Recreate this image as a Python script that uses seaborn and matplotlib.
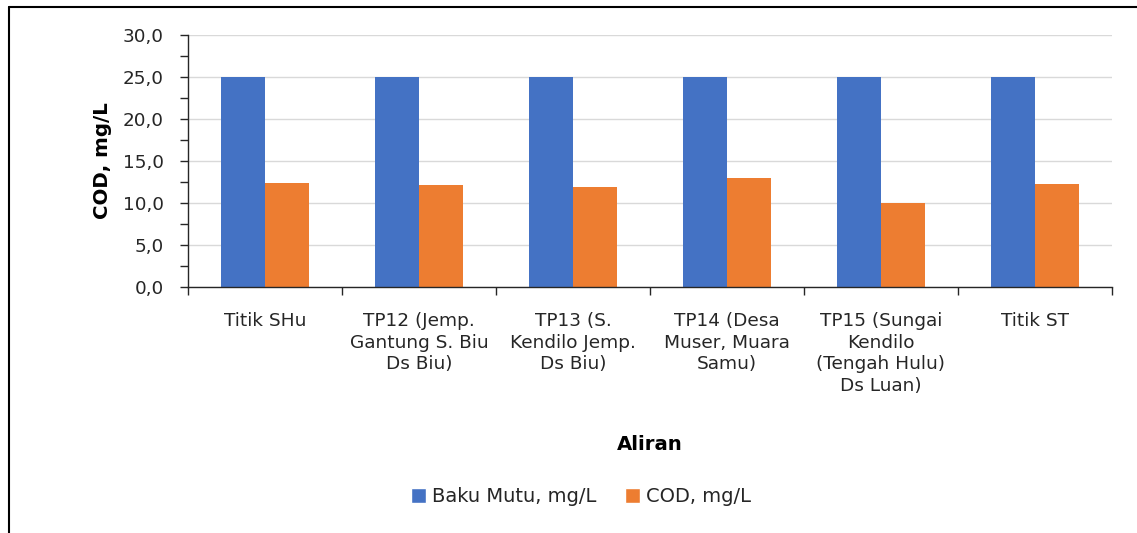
import matplotlib
matplotlib.use("Agg")
import matplotlib.pyplot as plt
import seaborn as sns
import pandas as pd
import numpy as np
from matplotlib.patches import Patch
from matplotlib.lines import Line2D
from matplotlib.ticker import MultipleLocator, FixedLocator, FuncFormatter

categories = ["Titik SHu", "TP12 (Jemp.\nGantung S. Biu\nDs Biu)", "TP13 (S.\nKendilo Jemp.\nDs Biu)",
              "TP14 (Desa\nMuser, Muara\nSamu)", "TP15 (Sungai\nKendilo\n(Tengah Hulu)\nDs Luan)", "Titik ST"]
baku_mutu = [25.0, 25.0, 25.0, 25.0, 25.0, 25.0]
cod = [12.4, 12.1, 11.9, 13.0, 10.0, 12.3]
series_names = ["Baku Mutu, mg/L", "COD, mg/L"]
colors = ["#4472C4", "#ED7D31"]

df = pd.DataFrame({
    "Aliran": categories * 2,
    "value": baku_mutu + cod,
    "series": [series_names[0]] * 6 + [series_names[1]] * 6,
})

sns.set_theme(style="white")
plt.rcParams['font.family'] = ['DejaVu Sans']

W, H = 1137, 533
fig = plt.figure(figsize=(W / 100, H / 100), dpi=100)
ax = fig.add_axes([188 / W, 1 - 287 / H, 924 / W, 252 / H])

sns.barplot(data=df, x="Aliran", y="value", hue="series", palette=colors,
            width=0.571, saturation=1, ax=ax, legend=False, linewidth=0)

ax.set_ylim(0, 30)
ax.set_xlim(-0.5, 5.5)
ax.yaxis.set_major_locator(MultipleLocator(5))
ax.yaxis.set_minor_locator(MultipleLocator(2.5))
ax.yaxis.set_major_formatter(FuncFormatter(lambda v, p: f"{v:.1f}".replace(".", ",")))
ax.grid(axis="y", which="major", color="#D9D9D9", linewidth=1)
ax.set_axisbelow(True)

for s in ["top", "right"]:
    ax.spines[s].set_visible(False)
for s in ["left", "bottom"]:
    ax.spines[s].set_color("#262626")
    ax.spines[s].set_linewidth(1)

ax.tick_params(axis="y", which="both", left=True, direction="out", color="#262626",
               length=6, width=1)
ax.tick_params(axis="y", which="major", labelsize=13.2, labelcolor="#262626", pad=11.5)
ax.xaxis.set_minor_locator(FixedLocator(np.arange(-0.5, 6.0, 1.0)))
ax.tick_params(axis="x", which="major", length=0, labelsize=13.3, labelcolor="#262626", pad=18)
ax.tick_params(axis="x", which="minor", bottom=True, length=6, width=1, color="#262626",
               direction="out")
for lbl in ax.get_xticklabels():
    lbl.set_linespacing(1.26)

ax.set_xlabel("Aliran", fontsize=14.2, fontweight="bold", color="black")
ax.xaxis.label.set_va("center")
ax.xaxis.set_label_coords(0.5, (287 - 445) / 252)
ax.set_ylabel("COD, mg/L", fontsize=14.2, fontweight="bold", color="black")
ax.yaxis.label.set_va("center")
ax.yaxis.set_label_coords((103 - 188) / 924, (287 - 161) / 252)

handles = [Patch(facecolor=c, label=n) for c, n in zip(colors, series_names)]
fig.legend(handles=handles, loc="center", bbox_to_anchor=(581 / W, 1 - 497 / H), ncol=2,
           frameon=False, fontsize=14, handlelength=0.77, handleheight=0.77,
           handletextpad=0.3, columnspacing=1.5, labelcolor="#262626",
           borderpad=0, borderaxespad=0)

fig.add_artist(Line2D([9 / W, 9 / W], [0, 1 - 7 / H], transform=fig.transFigure,
                      color="black", linewidth=1.5))
fig.add_artist(Line2D([9 / W, 1], [1 - 7 / H, 1 - 7 / H], transform=fig.transFigure,
                      color="black", linewidth=1.5))

fig.savefig("out.png", dpi=100)
